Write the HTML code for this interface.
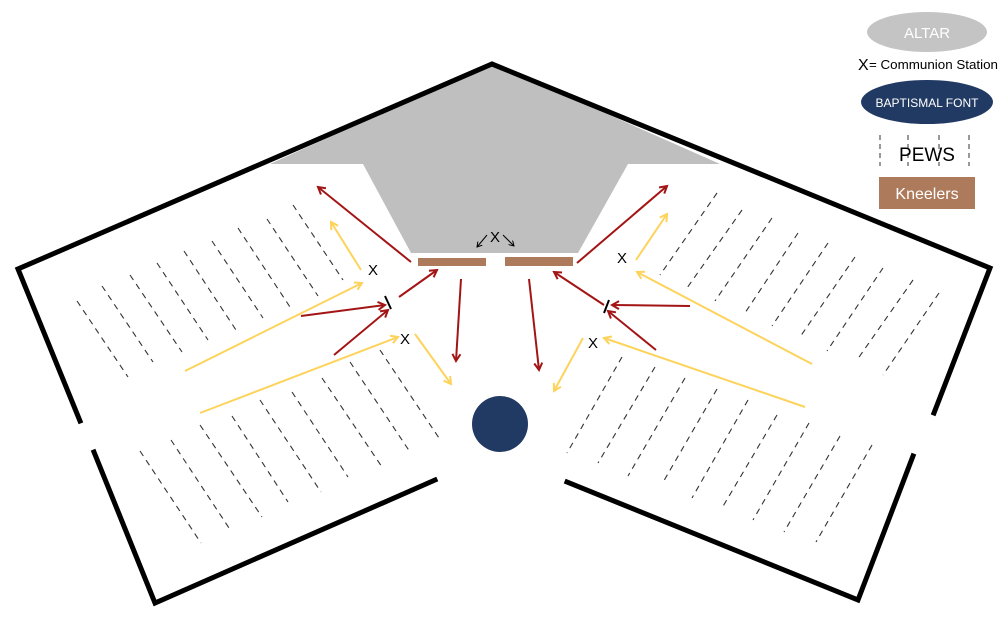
<!DOCTYPE html>
<html><head><meta charset="utf-8"><style>
html,body{margin:0;padding:0;background:#fff;}
svg{display:block;}
text{font-family:"Liberation Sans",sans-serif;}
</style></head><body>
<svg width="1000" height="637" viewBox="0 0 1000 637" xmlns="http://www.w3.org/2000/svg">
<defs>
<marker id="ar" markerWidth="10" markerHeight="10" refX="8" refY="5" orient="auto" markerUnits="userSpaceOnUse"><path d="M1,1 L8,5 L1,9" fill="none" stroke="#a31515" stroke-width="2"/></marker>
<marker id="ay" markerWidth="10" markerHeight="10" refX="8" refY="5" orient="auto" markerUnits="userSpaceOnUse"><path d="M1,1 L8,5 L1,9" fill="none" stroke="#fdd35c" stroke-width="2"/></marker>
<marker id="ak" markerWidth="6" markerHeight="6" refX="5" refY="3" orient="auto" markerUnits="userSpaceOnUse"><path d="M0,0 L5,3 L0,6" fill="none" stroke="#000" stroke-width="1"/></marker>
</defs>
<polygon points="270,164 492,63 720,164 628,164 578,253 411,253 363,164" fill="#bfbfbf"/>
<g stroke="#000" stroke-width="5" fill="none" stroke-linecap="square">
<polyline points="80,421 18,269 492,64 990,268 934,413"/>
<polyline points="94,452 155,603 435,480"/>
<polyline points="913,456 858,600 567,482"/>
</g>
<rect x="418" y="258" width="68" height="8" fill="#ad7b5c"/>
<rect x="505" y="257" width="68" height="9" fill="#ad7b5c"/>
<g stroke="#333" stroke-width="1.1" stroke-dasharray="6,5" fill="none">
<line x1="77" y1="301" x2="128" y2="377"/>
<line x1="102" y1="286" x2="153" y2="362"/>
<line x1="130" y1="275" x2="182" y2="352"/>
<line x1="157" y1="263" x2="208" y2="340"/>
<line x1="184" y1="251" x2="236" y2="330"/>
<line x1="212" y1="241" x2="263" y2="318"/>
<line x1="238" y1="228" x2="290" y2="307"/>
<line x1="267" y1="219" x2="318" y2="296"/>
<line x1="293" y1="205" x2="343" y2="280"/>

<line x1="140" y1="451" x2="201" y2="543"/>
<line x1="171" y1="440" x2="231" y2="531"/>
<line x1="200" y1="425" x2="262" y2="517"/>
<line x1="232" y1="416" x2="288" y2="502"/>
<line x1="260" y1="400" x2="321" y2="492"/>
<line x1="292" y1="392" x2="348" y2="477"/>
<line x1="322" y1="378" x2="382" y2="467"/>
<line x1="350" y1="362" x2="410" y2="452"/>
<line x1="380" y1="350" x2="441" y2="441"/>

<line x1="717" y1="193" x2="660" y2="275"/>
<line x1="742" y1="210" x2="687" y2="288"/>
<line x1="772" y1="218" x2="715" y2="301"/>
<line x1="798" y1="233" x2="745" y2="313"/>
<line x1="828" y1="243" x2="772" y2="326"/>
<line x1="855" y1="257" x2="800" y2="337"/>
<line x1="883" y1="268" x2="827" y2="351"/>
<line x1="913" y1="280" x2="857" y2="360"/>
<line x1="939" y1="293" x2="883" y2="375"/>

<line x1="622" y1="357" x2="567" y2="453"/>
<line x1="655" y1="367" x2="598" y2="463"/>
<line x1="685" y1="378" x2="628" y2="476"/>
<line x1="717" y1="389" x2="662" y2="484"/>
<line x1="748" y1="400" x2="692" y2="498"/>
<line x1="777" y1="415" x2="722" y2="508"/>
<line x1="809" y1="423" x2="753" y2="520"/>
<line x1="840" y1="436" x2="784" y2="532"/>
<line x1="872" y1="445" x2="816" y2="542"/>
</g>
<g stroke="#a31515" stroke-width="2" fill="none" marker-end="url(#ar)">
<line x1="411" y1="262" x2="318" y2="187"/>
<line x1="577" y1="263" x2="667" y2="186"/>
<line x1="399" y1="297" x2="437" y2="270"/>
<line x1="301" y1="316" x2="385" y2="305"/>
<line x1="334" y1="355" x2="388" y2="310"/>
<line x1="461" y1="279" x2="456" y2="361"/>
<line x1="529" y1="279" x2="539" y2="370"/>
<line x1="604" y1="305" x2="554" y2="272"/>
<line x1="690" y1="306" x2="612" y2="305"/>
<line x1="656" y1="350" x2="608" y2="311"/>
</g>
<g stroke="#000" stroke-width="2">
<line x1="385" y1="296" x2="391" y2="309"/>
<line x1="609" y1="300" x2="604" y2="313"/>
</g>
<g stroke="#fdd35c" stroke-width="2" fill="none" marker-end="url(#ay)">
<line x1="361" y1="270" x2="331" y2="222"/>
<line x1="185" y1="371" x2="362" y2="283"/>
<line x1="200" y1="413" x2="398" y2="337"/>
<line x1="415" y1="334" x2="451" y2="384"/>
<line x1="636" y1="260" x2="667" y2="214"/>
<line x1="812" y1="364" x2="637" y2="272"/>
<line x1="805" y1="407" x2="604" y2="338"/>
<line x1="583" y1="338" x2="554" y2="391"/>
</g>
<g font-size="15" fill="#000" text-anchor="middle">
<text x="373" y="275">X</text>
<text x="405" y="344">X</text>
<text x="622" y="263">X</text>
<text x="593" y="348">X</text>
<text x="495" y="242">X</text>
</g>
<g stroke="#000" stroke-width="1" marker-end="url(#ak)">
<line x1="487" y1="235" x2="477" y2="247"/>
<line x1="503" y1="235" x2="514" y2="246"/>
</g>
<circle cx="500" cy="424" r="28" fill="#213a63"/>
<ellipse cx="927" cy="32" rx="60" ry="20" fill="#c4c4c4"/>
<text x="927" y="38" font-size="15" fill="#fff" text-anchor="middle">ALTAR</text>
<text x="858" y="70" font-size="16" fill="#000">X</text>
<text x="869" y="69" font-size="13" fill="#000" textLength="129" lengthAdjust="spacingAndGlyphs">= Communion Station</text>
<ellipse cx="927" cy="102" rx="66" ry="22" fill="#213a63"/>
<text x="927" y="107" font-size="12" fill="#fff" text-anchor="middle">BAPTISMAL FONT</text>
<g stroke="#333" stroke-width="1" stroke-dasharray="5,4">
<line x1="880" y1="135" x2="880" y2="166"/>
<line x1="908" y1="135" x2="908" y2="166"/>
<line x1="939" y1="135" x2="939" y2="166"/>
<line x1="969" y1="135" x2="969" y2="166"/>
</g>
<text x="927" y="161" font-size="19" fill="#000" text-anchor="middle">PEWS</text>
<rect x="879" y="177" width="96" height="32" fill="#ad7b5c"/>
<text x="927" y="199" font-size="16" fill="#fff" text-anchor="middle">Kneelers</text>
</svg>
</body></html>
